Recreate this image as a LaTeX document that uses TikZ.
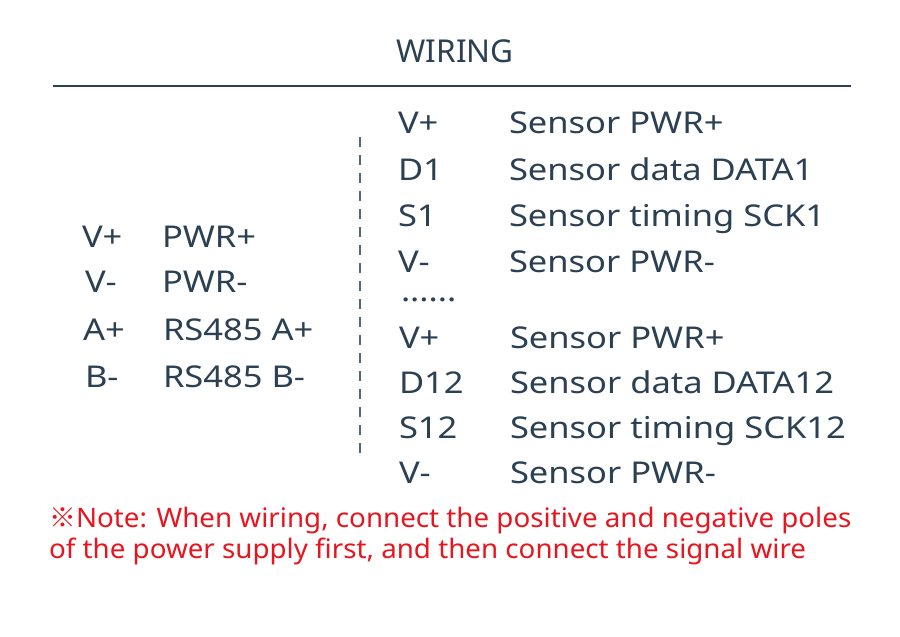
\documentclass[tikz,border=0pt]{standalone}
\usepackage{fontspec}
\setmainfont{Noto Sans}
\newfontfamily\bodyfont[FakeStretch=1.15]{Noto Sans}
\newfontfamily\notefont[FakeStretch=1.035]{Noto Sans}
\newfontfamily\cjk{Noto Sans CJK SC}
\definecolor{ink}{HTML}{2B4052}
\definecolor{notered}{HTML}{E8141E}
\begin{document}
\begin{tikzpicture}[x=1pt,y=-1pt,
  txt/.style={anchor=base west,inner sep=0pt,outer sep=0pt,text=ink,font=\bodyfont\fontsize{30}{30}\selectfont},
  ttl/.style={anchor=base,inner sep=0pt,text=ink,font=\fontsize{31.5}{31.5}\selectfont},
  note/.style={anchor=base west,inner sep=0pt,text=notered,font=\notefont\fontsize{26.8}{26.8}\selectfont},
  rule/.style={draw=ink,line width=2pt},
  sep/.style={draw=ink!80,line width=1.8pt,dash pattern=on 10pt off 8pt}]
\useasboundingbox (0,0) rectangle (900,637);
\node[ttl] (title) at (455,62) {WIRING};
\coordinate (r1) at (53,86);
\coordinate (r2) at (851,86);
\draw[rule] (r1) -- (r2);
\coordinate (d1) at (360,137);
\coordinate (d2) at (360,460);
\draw[sep] (d1) -- (d2);
% left column
\node[txt] (l1a) at (82,247) {V+};
\node[txt] (l1b) at (162,247) {PWR+};
\node[txt] (l2a) at (85,292) {V-};
\node[txt] (l2b) at (162,292) {PWR-};
\node[txt] (l3a) at (83,340) {A+};
\node[txt] (l3b) at (163,340) {RS485 A+};
\node[txt] (l4a) at (85,387) {B-};
\node[txt] (l4b) at (163,387) {RS485 B-};
% right column
\node[txt] (a1) at (398,133) {V+};
\node[txt] (b1) at (509,133) {Sensor PWR+};
\node[txt] (a2) at (398,180) {D1};
\node[txt] (b2) at (509,180) {Sensor data DATA1};
\node[txt] (a3) at (398,226) {S1};
\node[txt] (b3) at (509,226) {Sensor timing SCK1};
\node[txt] (a4) at (398,272) {V-};
\node[txt] (b4) at (509,272) {Sensor PWR-};
\node[txt] (dots) at (401,301) {......};
\node[txt] (a5) at (399,348) {V+};
\node[txt] (b5) at (510,348) {Sensor PWR+};
\node[txt] (a6) at (399,393) {D12};
\node[txt] (b6) at (510,393) {Sensor data DATA12};
\node[txt] (a7) at (399,438) {S12};
\node[txt] (b7) at (510,438) {Sensor timing SCK12};
\node[txt] (a8) at (399,483) {V-};
\node[txt] (b8) at (510,483) {Sensor PWR-};
% note
\node[note] (n1) at (49,527) {{\cjk ※}Note: When wiring, connect the positive and negative poles};
\node[note] (n2) at (49,558) {of the power supply first, and then connect the signal wire};
\end{tikzpicture}
\end{document}
